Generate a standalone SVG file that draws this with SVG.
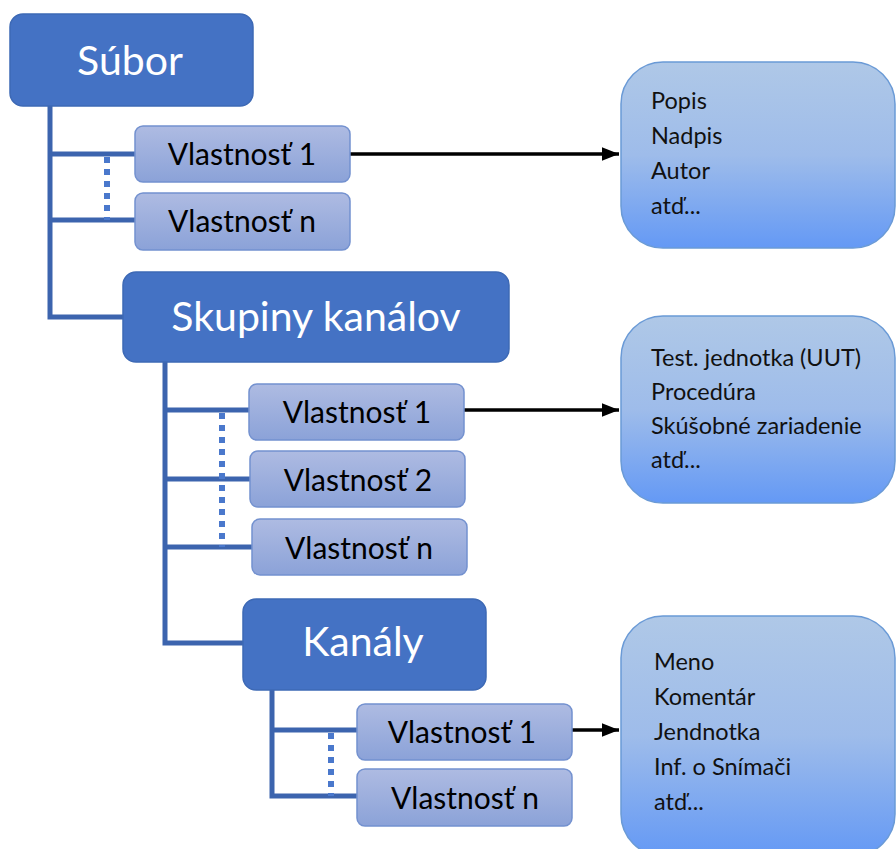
<svg xmlns="http://www.w3.org/2000/svg" width="896" height="849" viewBox="0 0 896 849">
<defs>
<style>
.big rect{fill:#4472c4;stroke:#3d69b5;stroke-width:1.5}
.big text{fill:#fff;font-family:Lato,"Open Sans",sans-serif;font-size:41px;text-anchor:middle}
.prop rect{fill:url(#gp);stroke:#7391cf;stroke-width:1.5}
.prop text{fill:#000;font-family:Lato,"Open Sans",sans-serif;font-size:30px;text-anchor:middle}
.info rect{fill:url(#gi);stroke:#6a9ad6;stroke-width:1.5}
.info text{fill:#111;font-family:Lato,"Open Sans",sans-serif;font-size:23.5px}
.ln{stroke:#3c64ae;stroke-width:5;fill:none}
.dot{stroke:#4a78cc;stroke-width:6;fill:none;stroke-dasharray:6 6}
.arr{stroke:#000;stroke-width:3.5;fill:none;marker-end:url(#ah)}
</style>
<linearGradient id="gp" x1="0" y1="0" x2="0" y2="1"><stop offset="0" stop-color="#aebbe2"/><stop offset="1" stop-color="#8ba2d8"/></linearGradient>
<linearGradient id="gi" x1="0" y1="0" x2="0" y2="1"><stop offset="0" stop-color="#afc8e7"/><stop offset="0.5" stop-color="#9ebcea"/><stop offset="1" stop-color="#6499f5"/></linearGradient>
<marker id="ah" markerWidth="5" markerHeight="4" refX="5" refY="2" orient="auto" markerUnits="strokeWidth"><path d="M0,0 L5,2 L0,4 Z" fill="#000"/></marker>
</defs>
<g id="connectors">
<path class="ln" d="M50,106 V317 H123 M50,154 H135 M50,220 H135"/>
<path class="ln" d="M165,362 V643 H243 M165,410 H249 M165,479 H250 M165,547 H252"/>
<path class="ln" d="M272,690 V796 H357 M272,730 H357"/>
<path class="dot" d="M107,157 V220"/>
<path class="dot" d="M222,413 V547"/>
<path class="dot" d="M331,733 V796"/>
<path class="arr" d="M350,154 H619"/>
<path class="arr" d="M464,410 H619"/>
<path class="arr" d="M572,730 H619"/>
</g>
<g id="subor" class="big"><rect x="10" y="14" width="243" height="92" rx="13"/><text x="130" y="75">Súbor</text></g>
<g id="subor-v1" class="prop"><rect x="135" y="126" width="215" height="56" rx="8"/><text x="242" y="165">Vlastnosť 1</text></g>
<g id="subor-vn" class="prop"><rect x="135" y="193" width="215" height="57" rx="8"/><text x="242" y="232">Vlastnosť n</text></g>
<g id="info1" class="info"><rect x="621" y="62" width="274" height="186" rx="42"/><text x="651" y="109">Popis</text><text x="651" y="144">Nadpis</text><text x="651" y="179">Autor</text><text x="651" y="214">atď...</text></g>
<g id="skupiny" class="big"><rect x="123" y="272" width="386" height="90" rx="13"/><text x="316" y="331">Skupiny kanálov</text></g>
<g id="sk-v1" class="prop"><rect x="249" y="384" width="215" height="56" rx="8"/><text x="357" y="423">Vlastnosť 1</text></g>
<g id="sk-v2" class="prop"><rect x="250" y="451" width="215" height="56" rx="8"/><text x="358" y="491">Vlastnosť 2</text></g>
<g id="sk-vn" class="prop"><rect x="252" y="519" width="215" height="56" rx="8"/><text x="359" y="559">Vlastnosť n</text></g>
<g id="info2" class="info"><rect x="621" y="316" width="274" height="187" rx="42"/><text x="651" y="366">Test. jednotka (UUT)</text><text x="651" y="400">Procedúra</text><text x="651" y="434">Skúšobné zariadenie</text><text x="651" y="468">atď...</text></g>
<g id="kanaly" class="big"><rect x="243" y="599" width="243" height="91" rx="13"/><text x="363" y="656">Kanály</text></g>
<g id="k-v1" class="prop"><rect x="357" y="704" width="215" height="56" rx="8"/><text x="462" y="743">Vlastnosť 1</text></g>
<g id="k-vn" class="prop"><rect x="357" y="769" width="215" height="57" rx="8"/><text x="465" y="809">Vlastnosť n</text></g>
<g id="info3" class="info"><rect x="621" y="616" width="274" height="240" rx="42"/><text x="654" y="670">Meno</text><text x="654" y="705">Komentár</text><text x="654" y="740">Jendnotka</text><text x="654" y="775">Inf. o Snímači</text><text x="654" y="810">atď...</text></g>
</svg>
